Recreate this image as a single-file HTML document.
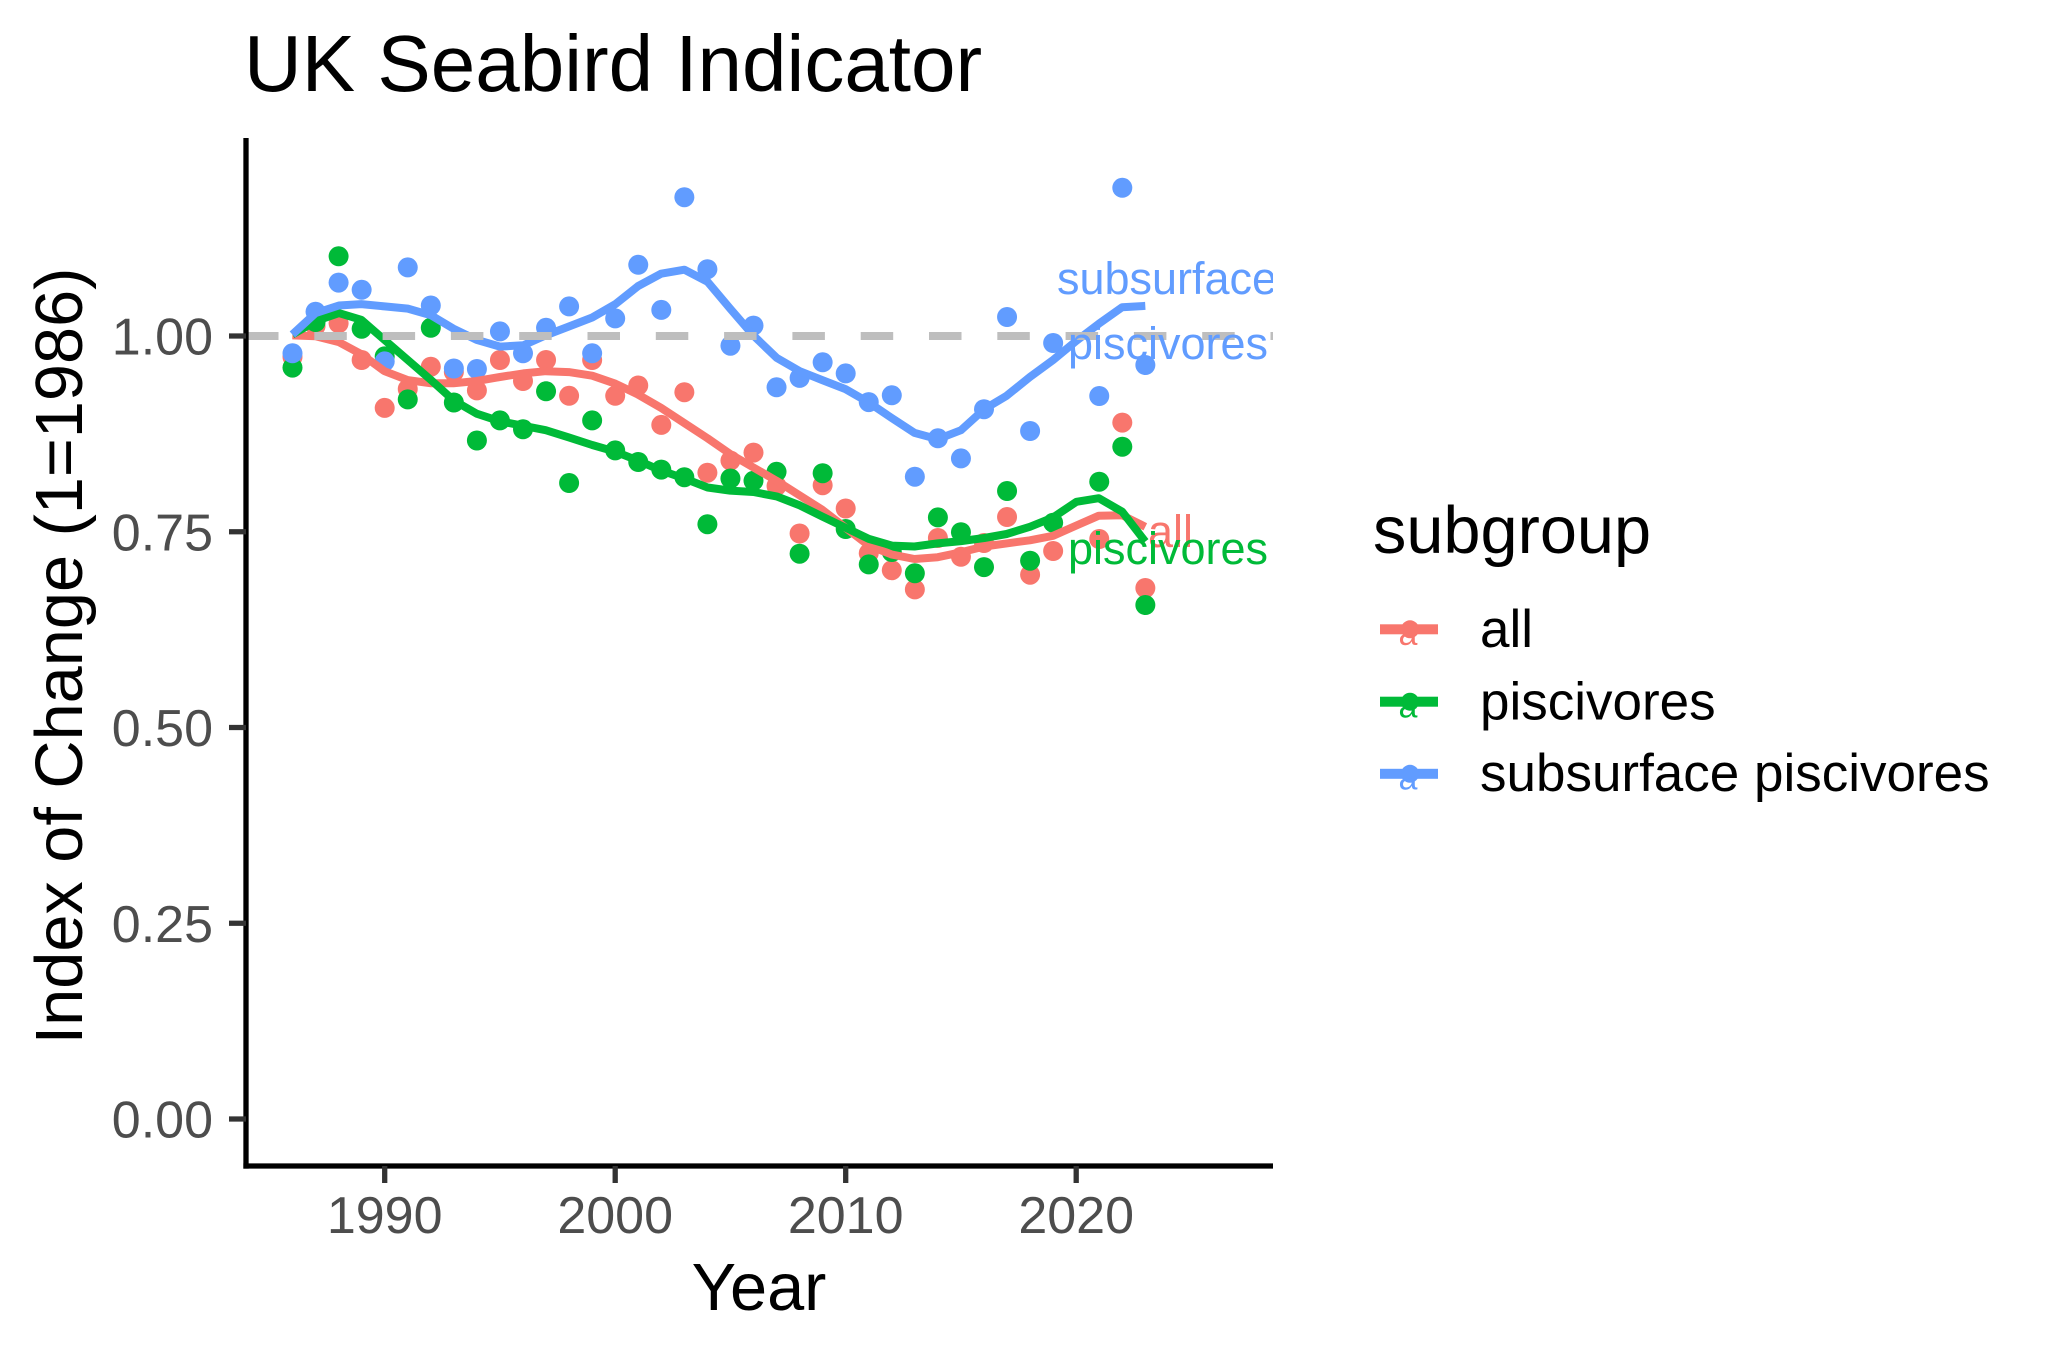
<!DOCTYPE html>
<html><head><meta charset="utf-8"><style>
html,body{margin:0;padding:0;background:#fff;}
svg{display:block;font-family:"Liberation Sans",Arial,sans-serif;}
</style></head><body>
<svg width="2057" height="1357" viewBox="0 0 2057 1357" xmlns="http://www.w3.org/2000/svg">
<defs><clipPath id="pc"><rect x="246" y="138" width="1027" height="1028"/></clipPath></defs>
<rect width="2057" height="1357" fill="#fff"/>
<text x="244" y="91" font-size="80" fill="#000">UK Seabird Indicator</text>
<g clip-path="url(#pc)">
<g fill="#F8766D">
<circle cx="292.5" cy="357" r="10"/><circle cx="315.55" cy="326" r="10"/><circle cx="338.6" cy="323.3" r="10"/><circle cx="361.65" cy="360" r="10"/><circle cx="384.7" cy="407.9" r="10"/><circle cx="407.75" cy="389" r="10"/><circle cx="430.8" cy="366.7" r="10"/><circle cx="453.85" cy="372" r="10"/><circle cx="476.9" cy="390.4" r="10"/><circle cx="499.95" cy="360" r="10"/><circle cx="523" cy="381" r="10"/><circle cx="546.05" cy="360" r="10"/><circle cx="569.1" cy="395.8" r="10"/><circle cx="592.15" cy="360" r="10"/><circle cx="615.2" cy="395.8" r="10"/><circle cx="638.25" cy="385.5" r="10"/><circle cx="661.3" cy="424.9" r="10"/><circle cx="684.35" cy="392.2" r="10"/><circle cx="707.4" cy="472.7" r="10"/><circle cx="730.45" cy="460.6" r="10"/><circle cx="753.5" cy="452.6" r="10"/><circle cx="776.55" cy="486" r="10"/><circle cx="799.6" cy="533.5" r="10"/><circle cx="822.65" cy="485.2" r="10"/><circle cx="845.7" cy="508.5" r="10"/><circle cx="868.75" cy="553.2" r="10"/><circle cx="891.8" cy="570.2" r="10"/><circle cx="914.85" cy="589.4" r="10"/><circle cx="937.9" cy="538" r="10"/><circle cx="960.95" cy="556.8" r="10"/><circle cx="984" cy="543" r="10"/><circle cx="1007.05" cy="517" r="10"/><circle cx="1030.1" cy="574.7" r="10"/><circle cx="1053.15" cy="551" r="10"/><circle cx="1099.25" cy="539" r="10"/><circle cx="1122.3" cy="422.6" r="10"/><circle cx="1145.35" cy="588" r="10"/>
</g>
<g fill="#00BA38">
<circle cx="292.5" cy="367.6" r="10"/><circle cx="315.55" cy="322" r="10"/><circle cx="338.6" cy="256.3" r="10"/><circle cx="361.65" cy="328.7" r="10"/><circle cx="384.7" cy="356.4" r="10"/><circle cx="407.75" cy="399.4" r="10"/><circle cx="430.8" cy="327.8" r="10"/><circle cx="453.85" cy="402.5" r="10"/><circle cx="476.9" cy="440.5" r="10"/><circle cx="499.95" cy="420.4" r="10"/><circle cx="523" cy="429.3" r="10"/><circle cx="546.05" cy="391.3" r="10"/><circle cx="569.1" cy="483" r="10"/><circle cx="592.15" cy="420.4" r="10"/><circle cx="615.2" cy="450.4" r="10"/><circle cx="638.25" cy="462" r="10"/><circle cx="661.3" cy="469.6" r="10"/><circle cx="684.35" cy="477.2" r="10"/><circle cx="707.4" cy="524.2" r="10"/><circle cx="730.45" cy="478.5" r="10"/><circle cx="753.5" cy="480.8" r="10"/><circle cx="776.55" cy="471.8" r="10"/><circle cx="799.6" cy="553.7" r="10"/><circle cx="822.65" cy="473.2" r="10"/><circle cx="845.7" cy="529" r="10"/><circle cx="868.75" cy="564.4" r="10"/><circle cx="891.8" cy="552" r="10"/><circle cx="914.85" cy="573.3" r="10"/><circle cx="937.9" cy="517.4" r="10"/><circle cx="960.95" cy="532.2" r="10"/><circle cx="984" cy="567.1" r="10"/><circle cx="1007.05" cy="491" r="10"/><circle cx="1030.1" cy="560.7" r="10"/><circle cx="1053.15" cy="522.7" r="10"/><circle cx="1099.25" cy="481.7" r="10"/><circle cx="1122.3" cy="446.7" r="10"/><circle cx="1145.35" cy="605" r="10"/>
</g>
<g fill="#619CFF">
<circle cx="292.5" cy="353.3" r="10"/><circle cx="315.55" cy="311.7" r="10"/><circle cx="338.6" cy="282.6" r="10"/><circle cx="361.65" cy="289.8" r="10"/><circle cx="384.7" cy="361.4" r="10"/><circle cx="407.75" cy="267.4" r="10"/><circle cx="430.8" cy="305.5" r="10"/><circle cx="453.85" cy="368.5" r="10"/><circle cx="476.9" cy="369" r="10"/><circle cx="499.95" cy="331.4" r="10"/><circle cx="523" cy="353.3" r="10"/><circle cx="546.05" cy="327.8" r="10"/><circle cx="569.1" cy="306.4" r="10"/><circle cx="592.15" cy="353.3" r="10"/><circle cx="615.2" cy="318.4" r="10"/><circle cx="638.25" cy="264.8" r="10"/><circle cx="661.3" cy="309.9" r="10"/><circle cx="684.35" cy="197.2" r="10"/><circle cx="707.4" cy="269.2" r="10"/><circle cx="730.45" cy="345.7" r="10"/><circle cx="753.5" cy="325.6" r="10"/><circle cx="776.55" cy="387.3" r="10"/><circle cx="799.6" cy="377.9" r="10"/><circle cx="822.65" cy="362.3" r="10"/><circle cx="845.7" cy="373.4" r="10"/><circle cx="868.75" cy="402.1" r="10"/><circle cx="891.8" cy="395.3" r="10"/><circle cx="914.85" cy="476.7" r="10"/><circle cx="937.9" cy="438.3" r="10"/><circle cx="960.95" cy="458.4" r="10"/><circle cx="984" cy="409.2" r="10"/><circle cx="1007.05" cy="317" r="10"/><circle cx="1030.1" cy="431" r="10"/><circle cx="1053.15" cy="343" r="10"/><circle cx="1099.25" cy="396" r="10"/><circle cx="1122.3" cy="187.8" r="10"/><circle cx="1145.35" cy="365" r="10"/>
</g>
<g fill="none" stroke-width="8" stroke-linejoin="round">
<polyline stroke="#F8766D" points="292.4,335.4 315.6,336.3 338.9,342.1 361.3,354.2 384.5,371.2 407.8,380.1 431.1,383.3 453.5,383.3 476.7,381.0 500.0,377.0 523.3,373.4 545.7,371.2 568.9,372.1 592.2,375.7 615.4,383.7 637.9,394.5 661.1,407.9 684.4,423.1 707.6,438.3 730.1,453.9 753.3,467.4 776.6,480.8 799.8,495.5 822.3,509.8 845.5,527.7 868.8,545.6 892.0,554.6 914.5,559.0 937.7,557.2 961.0,552.3 984.2,546.5 1006.6,543.4 1029.9,540.3 1053.1,535.8 1076.4,525.5 1098.8,515.7 1122.1,515.2 1145.3,526.8"/>
<polyline stroke="#00BA38" points="292.4,334.5 315.6,321.1 338.9,313.1 361.3,319.8 384.5,339.9 407.8,360.0 431.1,380.1 453.5,400.3 476.7,413.7 500.0,421.3 523.3,425.8 545.7,430.2 568.9,437.4 592.2,445.0 615.4,451.7 637.9,460.6 661.1,470.5 684.4,478.5 707.6,487.5 730.1,490.6 753.3,492.0 776.6,496.4 799.8,505.4 822.3,516.6 845.5,527.7 868.8,538.9 892.0,545.6 914.5,546.5 937.7,543.4 961.0,541.1 984.2,538.0 1006.6,534.0 1029.9,526.8 1053.1,517.4 1076.4,501.8 1098.8,498.2 1122.1,511.6 1145.3,541.6"/>
<polyline stroke="#619CFF" points="292.4,334.5 315.6,313.1 338.9,305.5 361.3,304.1 384.5,306.4 407.8,308.6 431.1,315.3 453.5,328.7 476.7,339.9 500.0,346.6 523.3,345.3 545.7,335.4 568.9,326.5 592.2,317.5 615.4,304.1 637.9,286.2 661.1,273.7 684.4,269.7 707.6,281.8 730.1,308.6 753.3,335.4 776.6,357.8 799.8,371.2 822.3,380.1 845.5,389.1 868.8,402.5 892.0,418.2 914.5,432.9 937.7,439.2 961.0,430.2 984.2,409.2 1006.6,395.8 1029.9,377.0 1053.1,360.0 1076.4,340.8 1098.8,323.8 1122.1,307.2 1145.3,305.9"/>
</g>
<line x1="246" y1="336" x2="1273" y2="336" stroke="#BEBEBE" stroke-width="8" stroke-dasharray="32.5 35.8"/>
<g font-size="45">
<text x="1167" y="294" fill="#619CFF" text-anchor="middle">subsurface</text>
<text x="1168" y="359" fill="#619CFF" text-anchor="middle">piscivores</text>
<text x="1148" y="547" fill="#F8766D">all</text>
<text x="1068" y="564" fill="#00BA38">piscivores</text>
</g>
</g>
<line x1="246" y1="138" x2="246" y2="1168.6" stroke="#000" stroke-width="5.3"/>
<line x1="243.4" y1="1166" x2="1273" y2="1166" stroke="#000" stroke-width="5.3"/>
<g stroke="#333" stroke-width="5.3">
<line x1="229" y1="1119" x2="246" y2="1119"/><line x1="229" y1="923.25" x2="246" y2="923.25"/><line x1="229" y1="727.5" x2="246" y2="727.5"/><line x1="229" y1="531.75" x2="246" y2="531.75"/><line x1="229" y1="336" x2="246" y2="336"/>
<line x1="384.7" y1="1166" x2="384.7" y2="1183"/><line x1="615.2" y1="1166" x2="615.2" y2="1183"/><line x1="845.7" y1="1166" x2="845.7" y2="1183"/><line x1="1076.2" y1="1166" x2="1076.2" y2="1183"/>
</g>
<g font-size="52" fill="#4D4D4D">
<text x="213" y="1137.5" text-anchor="end">0.00</text>
<text x="213" y="941.75" text-anchor="end">0.25</text>
<text x="213" y="746" text-anchor="end">0.50</text>
<text x="213" y="550.25" text-anchor="end">0.75</text>
<text x="213" y="354.5" text-anchor="end">1.00</text>
<text x="384.7" y="1233" text-anchor="middle">1990</text>
<text x="615.2" y="1233" text-anchor="middle">2000</text>
<text x="845.7" y="1233" text-anchor="middle">2010</text>
<text x="1076.2" y="1233" text-anchor="middle">2020</text>
</g>
<text x="759" y="1310" font-size="66.7" text-anchor="middle" fill="#000">Year</text>
<text transform="translate(82,656) rotate(-90)" font-size="66.7" text-anchor="middle" fill="#000">Index of Change (1=1986)</text>
<text x="1373" y="553" font-size="66.7" fill="#000">subgroup</text>
<g>
<rect x="1380" y="624.3" width="58" height="10" fill="#F8766D"/><circle cx="1410" cy="629.3" r="9" fill="#F8766D"/><text x="1408" y="645" font-size="34" fill="#F8766D" text-anchor="middle">a</text>
<rect x="1380" y="696.7" width="58" height="10" fill="#00BA38"/><circle cx="1410" cy="701.7" r="9" fill="#00BA38"/><text x="1408" y="717.5" font-size="34" fill="#00BA38" text-anchor="middle">a</text>
<rect x="1380" y="768.8" width="58" height="10" fill="#619CFF"/><circle cx="1410" cy="773.8" r="9" fill="#619CFF"/><text x="1408" y="789.5" font-size="34" fill="#619CFF" text-anchor="middle">a</text>
</g>
<g font-size="53" fill="#000">
<text x="1480" y="647">all</text>
<text x="1480" y="719.3">piscivores</text>
<text x="1480" y="791">subsurface piscivores</text>
</g>
</svg>
</body></html>
